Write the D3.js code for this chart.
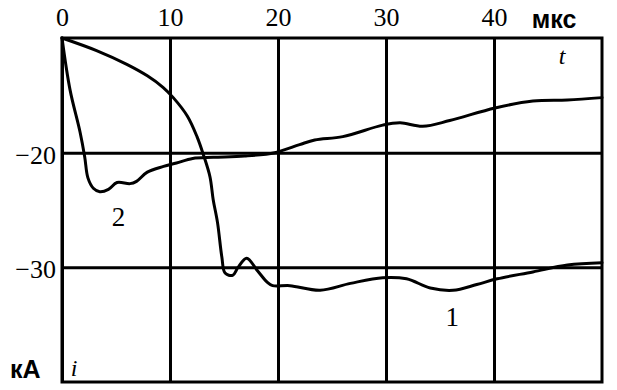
<!DOCTYPE html>
<html>
<head>
<meta charset="UTF-8">
<title>Ток молнии, кА</title>
<script src="https://cdn.jsdelivr.net/npm/d3@7"></script>
<style>
  body { margin: 0; background: #fff; }
  .grid line { stroke: #000; stroke-width: 3; }
  .grid path { display: none; }
  .grid text { font-family: "Liberation Serif", serif; font-size: 26px; fill: #000; }
  .curve { fill: none; stroke: #000; stroke-width: 3; stroke-linejoin: round; stroke-linecap: round; }
  .unit { font-family: "Liberation Sans", sans-serif; font-weight: bold; font-size: 25px; }
  .num { font-family: "Liberation Serif", serif; font-size: 27px; }
  .sym { font-family: "Liberation Serif", serif; font-style: italic; font-size: 24px; }
</style>
</head>
<body>
<div id="graphe"></div>
<script>
// время, мкс / ток, кА
var time1 = [0, 3.2, 6.0, 7.9, 9.35, 10.3, 11.6, 12.5, 13.1, 13.7, 14.0, 14.4, 14.8, 15.1, 15.8, 16.3, 17.1, 18.1, 19.0, 19.5, 21.1, 23.9, 26.7, 29.7, 31.9, 34.1, 36.2, 38.4, 40.3, 43.6, 46.8, 50];
var current1 = [-10, -11.1, -12.3, -13.3, -14.3, -15.2, -16.8, -18.6, -20.2, -22.1, -24.1, -26.1, -29.1, -30.5, -30.7, -30.0, -29.2, -30.3, -31.3, -31.6, -31.6, -32.0, -31.4, -30.9, -31.0, -31.8, -32.0, -31.5, -31.0, -30.4, -29.8, -29.6];

var time2 = [0, 0.74, 1.67, 2.1, 2.4, 2.9, 3.5, 4.3, 5.1, 6.3, 6.9, 7.9, 9.4, 10.6, 12.1, 14.0, 16.9, 19.7, 22.0, 23.4, 26.0, 29.7, 31.3, 33.4, 35.9, 40.1, 43.6, 46.8, 50];
var current2 = [-10, -14.5, -18.2, -20.35, -22.2, -23.1, -23.4, -23.2, -22.6, -22.7, -22.5, -21.7, -21.2, -20.9, -20.5, -20.4, -20.3, -20.0, -19.3, -18.9, -18.6, -17.6, -17.4, -17.7, -17.2, -16.1, -15.5, -15.4, -15.2];

var xTicks = [0, 10, 20, 30, 40];
var yTicks = [-20, -30];
var xDomain = [0, 50];
var yDomain = [-40, -10];

var width = 617, height = 390;
var margin = {top: 38, right: 15, bottom: 8, left: 62};

var svg = d3.select("#graphe").append("svg")
    .attr("width", width)
    .attr("height", height);

var x = d3.scaleLinear().domain(xDomain).range([margin.left, width - margin.right]);
var y = d3.scaleLinear().domain(yDomain).range([height - margin.bottom, margin.top]);

var plotH = y(yDomain[0]) - y(yDomain[1]);
var plotW = x(xDomain[1]) - x(xDomain[0]);

// сетка с подписями
svg.append("g")
    .attr("class", "grid")
    .attr("transform", "translate(0," + margin.top + ")")
    .call(d3.axisTop(x).tickValues(xTicks).tickSize(-plotH).tickPadding(12).tickFormat(d3.format("d")));

svg.append("g")
    .attr("class", "grid")
    .attr("transform", "translate(" + margin.left + ",0)")
    .call(d3.axisLeft(y).tickValues(yTicks).tickSize(-plotW).tickPadding(6)
        .tickFormat(function(d) { return "\u2212" + Math.abs(d); }));

svg.selectAll(".grid .tick text").filter(function(d) { return d < 0; }).attr("dy", "0.4em");

// рамка
svg.append("rect")
    .attr("x", x(xDomain[0]))
    .attr("y", y(yDomain[1]))
    .attr("width", plotW)
    .attr("height", plotH)
    .attr("fill", "none")
    .attr("stroke", "#000")
    .attr("stroke-width", 3);

var line = d3.line()
    .x(function(d) { return x(d[0]); })
    .y(function(d) { return y(d[1]); })
    .curve(d3.curveCatmullRom.alpha(0.5));

svg.append("path").attr("class", "curve").attr("d", line(d3.zip(time1, current1)));
svg.append("path").attr("class", "curve").attr("d", line(d3.zip(time2, current2)));

// подписи
svg.append("text").attr("class", "unit").attr("x", x(43.5)).attr("y", 28).text("мкс");
svg.append("text").attr("class", "unit").attr("x", 10).attr("y", 378).text("кА");
svg.append("text").attr("class", "sym").attr("x", x(46.0)).attr("y", 64).text("t");
svg.append("text").attr("class", "sym").attr("x", x(0.8)).attr("y", 376).text("i");
svg.append("text").attr("class", "num").attr("x", x(4.6)).attr("y", 226).text("2");
svg.append("text").attr("class", "num").attr("x", x(35.5)).attr("y", 326).text("1");
</script>
</body>
</html>
